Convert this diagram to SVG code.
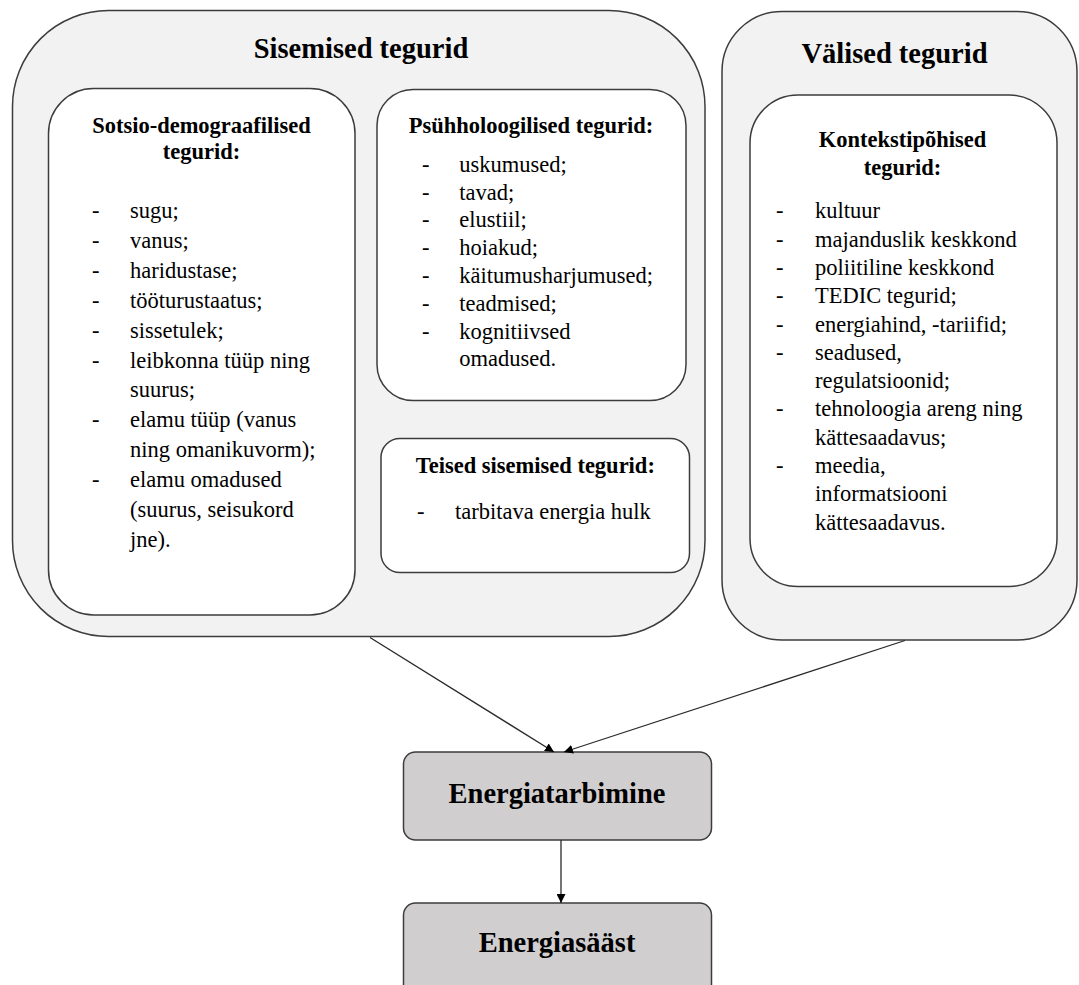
<svg xmlns="http://www.w3.org/2000/svg" width="1079" height="985" viewBox="0 0 1079 985">
<defs>
<style>
text{font-family:"Liberation Serif","Times New Roman",serif;fill:#000}
.t{font-size:28.5px;font-weight:bold;text-anchor:middle}
.h{font-size:22.5px;font-weight:bold;text-anchor:middle}
.i{font-size:22.5px}
.outer{fill:#f2f2f2;stroke:#3c3c3c;stroke-width:1.5}
.inner{fill:#ffffff;stroke:#3c3c3c;stroke-width:1.5}
.res{fill:#d0cecf;stroke:#3c3c3c;stroke-width:1.5}
.con{stroke:#2a2a2a;stroke-width:1.3;fill:none;marker-end:url(#ah)}
</style>
<marker id="ah" viewBox="0 0 10 10" refX="10" refY="5" markerWidth="9" markerHeight="9" markerUnits="userSpaceOnUse" orient="auto">
<path d="M0,0 L10,5 L0,10 Z" fill="#000"/>
</marker>
</defs>
<rect width="1079" height="985" fill="#ffffff"/>

<g id="sisemised">
<rect class="outer" x="12.5" y="10.5" width="692.5" height="626" rx="96" ry="96"/>
<text class="t" x="361" y="58">Sisemised tegurid</text>
</g>

<g id="sotsio">
<rect class="inner" x="48.5" y="88.5" width="306.5" height="526.5" rx="45" ry="45"/>
<text class="h" x="201.5" y="133.3">Sotsio-demograafilised</text>
<text class="h" x="201.5" y="159.3">tegurid:</text>
<g class="i">
<text class="i" x="92" y="218">-</text><text class="i" x="130" y="218">sugu;</text>
<text class="i" x="92" y="247.9">-</text><text class="i" x="130" y="247.9">vanus;</text>
<text class="i" x="92" y="277.8">-</text><text class="i" x="130" y="277.8">haridustase;</text>
<text class="i" x="92" y="307.7">-</text><text class="i" x="130" y="307.7">tööturustaatus;</text>
<text class="i" x="92" y="337.6">-</text><text class="i" x="130" y="337.6">sissetulek;</text>
<text class="i" x="92" y="367.5">-</text><text class="i" x="130" y="367.5">leibkonna tüüp ning</text>
<text class="i" x="130" y="397.4">suurus;</text>
<text class="i" x="92" y="427.3">-</text><text class="i" x="130" y="427.3">elamu tüüp (vanus</text>
<text class="i" x="130" y="457.2">ning omanikuvorm);</text>
<text class="i" x="92" y="487.1">-</text><text class="i" x="130" y="487.1">elamu omadused</text>
<text class="i" x="130" y="517">(suurus, seisukord</text>
<text class="i" x="130" y="546.9">jne).</text>
</g>
</g>

<g id="psyhholoogilised">
<rect class="inner" x="377" y="89.5" width="309" height="311" rx="36" ry="36"/>
<text class="h" x="531" y="132.7">Psühholoogilised tegurid:</text>
<text class="i" x="422" y="171.7">-</text><text class="i" x="459.3" y="171.7">uskumused;</text>
<text class="i" x="422" y="199.5">-</text><text class="i" x="459.3" y="199.5">tavad;</text>
<text class="i" x="422" y="227.3">-</text><text class="i" x="459.3" y="227.3">elustiil;</text>
<text class="i" x="422" y="255.1">-</text><text class="i" x="459.3" y="255.1">hoiakud;</text>
<text class="i" x="422" y="282.9">-</text><text class="i" x="459.3" y="282.9">käitumusharjumused;</text>
<text class="i" x="422" y="310.7">-</text><text class="i" x="459.3" y="310.7">teadmised;</text>
<text class="i" x="422" y="338.5">-</text><text class="i" x="459.3" y="338.5">kognitiivsed</text>
<text class="i" x="459.3" y="366.3">omadused.</text>
</g>

<g id="teised">
<rect class="inner" x="381" y="438.5" width="308.5" height="134" rx="19" ry="19"/>
<text class="h" x="535.3" y="473.3">Teised sisemised tegurid:</text>
<text class="i" x="417" y="519.3">-</text><text class="i" x="455" y="519.3">tarbitava energia hulk</text>
</g>

<g id="valised">
<rect class="outer" x="722" y="11.5" width="355" height="628.5" rx="60" ry="60"/>
<text class="t" x="894.5" y="62.5">Välised tegurid</text>
</g>

<g id="kontekst">
<rect class="inner" x="750" y="95" width="307" height="491.5" rx="48" ry="48"/>
<text class="h" x="902.5" y="146.7">Kontekstipõhised</text>
<text class="h" x="902.5" y="175">tegurid:</text>
<text class="i" x="776" y="218.3">-</text><text class="i" x="815" y="218.3">kultuur</text>
<text class="i" x="776" y="246.6">-</text><text class="i" x="815" y="246.6">majanduslik keskkond</text>
<text class="i" x="776" y="274.9">-</text><text class="i" x="815" y="274.9">poliitiline keskkond</text>
<text class="i" x="776" y="303.2">-</text><text class="i" x="815" y="303.2">TEDIC tegurid;</text>
<text class="i" x="776" y="331.5">-</text><text class="i" x="815" y="331.5">energiahind, -tariifid;</text>
<text class="i" x="776" y="359.8">-</text><text class="i" x="815" y="359.8">seadused,</text>
<text class="i" x="815" y="388.1">regulatsioonid;</text>
<text class="i" x="776" y="416.4">-</text><text class="i" x="815" y="416.4">tehnoloogia areng ning</text>
<text class="i" x="815" y="444.7">kättesaadavus;</text>
<text class="i" x="776" y="473">-</text><text class="i" x="815" y="473">meedia,</text>
<text class="i" x="815" y="501.3">informatsiooni</text>
<text class="i" x="815" y="529.6">kättesaadavus.</text>
</g>

<g id="energiatarbimine">
<rect class="res" x="403.5" y="752" width="308" height="88" rx="12" ry="12"/>
<text class="t" x="557" y="803">Energiatarbimine</text>
</g>

<g id="energiasaast">
<rect class="res" x="403.5" y="903" width="308" height="95" rx="12" ry="12"/>
<text class="t" x="557" y="952">Energiasääst</text>
</g>

<g id="connectors">
<line class="con" x1="370" y1="637.5" x2="554" y2="752"/>
<line class="con" x1="905" y1="640.5" x2="564" y2="752"/>
<line class="con" x1="561" y1="840" x2="561" y2="903"/>
</g>
</svg>
